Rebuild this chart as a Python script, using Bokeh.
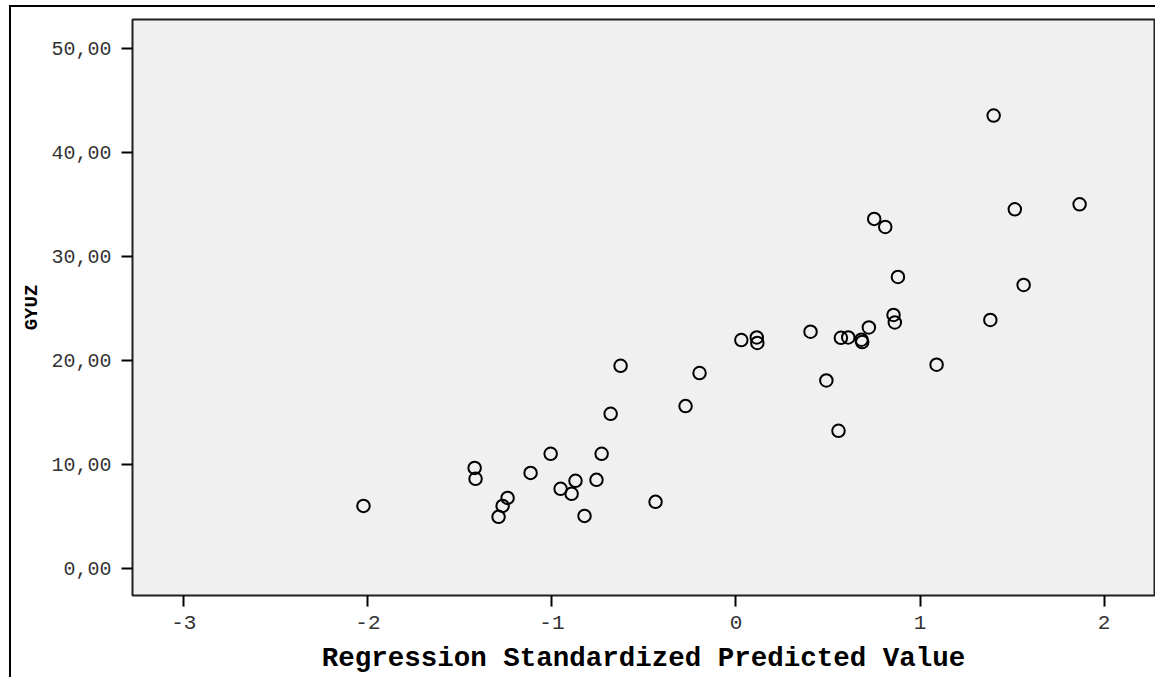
from bokeh.plotting import figure
from bokeh.models import Range1d, FixedTicker
from bokeh.embed import file_html
from bokeh.resources import INLINE

# Standardized predicted values (x) against observed GYUZ (y)
pred_std = [1.867, 1.515, 0.751, 0.811, 0.880, 1.563, 0.856, 0.863, 0.722, 1.382,
            0.405, 0.029, 0.113, 0.116, 0.570, 0.610, 0.682, 0.686, -0.198, 0.491,
            1.090, -0.274, 0.557, -0.627, -0.681, -0.730, -1.007, -1.116, -1.420, -1.415,
            -1.241, -1.268, -1.290, -0.953, -0.893, -0.872, -0.758, -0.823, -0.437, -2.024,
            1.400]
gyuz = [35.00, 34.52, 33.60, 32.83, 28.03, 27.26, 24.38, 23.66, 23.18, 23.90,
        22.77, 21.97, 22.22, 21.69, 22.19, 22.22, 22.00, 21.78, 18.80, 18.09,
        19.60, 15.63, 13.26, 19.50, 14.89, 11.05, 11.05, 9.22, 9.70, 8.65,
        6.82, 6.05, 5.00, 7.69, 7.21, 8.46, 8.55, 5.09, 6.44, 6.05,
        43.52]

x_ticks = [-3, -2, -1, 0, 1, 2]
x_tick_labels = ["-3", "-2", "-1", "0", "1", "2"]
y_ticks = [0, 10, 20, 30, 40, 50]
y_tick_labels = ["0,00", "10,00", "20,00", "30,00", "40,00", "50,00"]

MONO = "Liberation Mono"

p = figure(width=1146, height=672,
           x_range=Range1d(-3.279, 2.274), y_range=Range1d(-2.55, 52.74),
           output_backend="svg", toolbar_location=None,
           min_border_left=121, min_border_right=3,
           min_border_top=12, min_border_bottom=84)

# outer frame lines along the top and left of the chart
p.styles = {"margin-left": "9px", "margin-top": "5px",
            "border-left": "2px solid black", "border-top": "2px solid black"}

p.background_fill_color = "#f0f0f0"
p.border_fill_color = "white"
p.outline_line_color = "#202020"
p.outline_line_width = 2
p.grid.visible = False

p.scatter(pred_std, gyuz, marker="circle", size=12.5,
          fill_color=None, line_color="black", line_width=2)

p.xaxis.ticker = FixedTicker(ticks=x_ticks)
p.xaxis.major_label_overrides = dict(zip(x_ticks, x_tick_labels))
p.yaxis.ticker = FixedTicker(ticks=y_ticks)
p.yaxis.major_label_overrides = dict(zip(y_ticks, y_tick_labels))

for ax in (p.xaxis[0], p.yaxis[0]):
    ax.axis_line_color = None
    ax.major_tick_in = 0
    ax.major_tick_out = 11
    ax.major_tick_line_width = 2
    ax.major_tick_line_color = "black"
    ax.minor_tick_line_color = None
    ax.major_label_text_font = MONO
    ax.major_label_text_font_size = "20px"
    ax.major_label_text_color = "#333333"
    ax.major_label_standoff = 10
    ax.axis_label_text_font = MONO
    ax.axis_label_text_font_style = "bold"
    ax.axis_label_text_color = "black"

p.xaxis.major_label_text_font_size = "21px"
p.xaxis.major_label_standoff = 9
p.xaxis.axis_label = "Regression Standardized Predicted Value"
p.xaxis.axis_label_text_font_size = "27.5px"
p.xaxis.axis_label_text_baseline = "middle"
p.xaxis.axis_label_standoff = 11

p.yaxis.axis_label = "GYUZ"
p.yaxis.axis_label_text_font_size = "19px"
p.yaxis.axis_label_standoff = 5

open("out.html", "w").write(file_html(p, INLINE))
